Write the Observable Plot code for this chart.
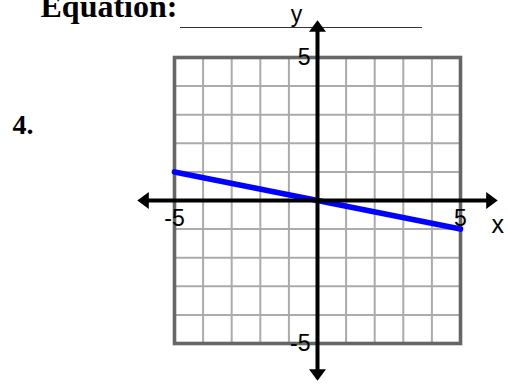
<!DOCTYPE html>
<html>
<head>
<meta charset="utf-8">
<script src="https://cdn.jsdelivr.net/npm/d3@7"></script>
<script src="https://cdn.jsdelivr.net/npm/@observablehq/plot@0.6"></script>
<style>
  html, body { margin: 0; padding: 0; background: white; }
  #wrap { position: relative; width: 508px; height: 385px; overflow: hidden; }
  #underline { position: absolute; left: 180px; top: 27px; width: 242px; height: 0; border-top: 1.6px solid #333; }
  #chart { position: absolute; left: 0; top: 0; }
</style>
</head>
<body>
<div id="wrap">
  <div id="underline"></div>
  <div id="chart"></div>
</div>
<script>
// ---- data ----
const gridLines = [-5, -4, -3, -2, -1, 0, 1, 2, 3, 4, 5];
const xTickLabels = [-5, 5];
const yTickLabels = [-5, 5];
const lineX = [-5, 5];
const lineY = [1, -1];
const axisTip = 6.3;      // where the arrowheads point
const axisEnd = 6.0;      // where the axis shafts end (under arrowheads)
const titleText = ["Equation:"];
const problemText = ["4."];

const lineData = lineX.map((x, i) => ({x, y: lineY[i]}));

// custom arrowhead symbols (tip at the data point)
function arrowSymbol(dir) {
  const L = 11.5, W = 8.5;
  return {
    draw(ctx) {
      const pts = {
        up:    [[0, 0], [-W, L], [W, L]],
        down:  [[0, 0], [-W, -L], [W, -L]],
        right: [[0, 0], [-L, -W], [-L, W]],
        left:  [[0, 0], [L, -W], [L, W]]
      }[dir];
      ctx.moveTo(pts[0][0], pts[0][1]);
      ctx.lineTo(pts[1][0], pts[1][1]);
      ctx.lineTo(pts[2][0], pts[2][1]);
      ctx.closePath();
    }
  };
}

const sans = "'Liberation Sans', Arial, sans-serif";
const serif = "'Liberation Serif', 'Times New Roman', serif";

const chart = Plot.plot({
  width: 508,
  height: 385,
  marginLeft: 174,
  marginRight: 48,
  marginTop: 57,
  marginBottom: 42,
  style: {background: "transparent", overflow: "visible"},
  x: {domain: [-5, 5], axis: null},
  y: {domain: [-5, 5], axis: null},
  marks: [
    // grid
    Plot.ruleX(gridLines, {x: d => d, stroke: "#ababab", strokeWidth: 2}),
    Plot.ruleY(gridLines, {y: d => d, stroke: "#ababab", strokeWidth: 2}),
    Plot.frame({stroke: "#666", strokeWidth: 3.6}),
    // the graphed line
    Plot.line(lineData, {x: "x", y: "y", stroke: "#0000ff", strokeWidth: 5.6, strokeLinecap: "round"}),
    // axes
    Plot.ruleY([0], {x1: -axisEnd, x2: axisEnd, stroke: "black", strokeWidth: 4}),
    Plot.ruleX([0], {y1: -axisEnd, y2: axisEnd, stroke: "black", strokeWidth: 4}),
    Plot.dot([axisTip], {x: d => d, y: 0, symbol: arrowSymbol("right"), fill: "black", stroke: null}),
    Plot.dot([-axisTip], {x: d => d, y: 0, symbol: arrowSymbol("left"), fill: "black", stroke: null}),
    Plot.dot([axisTip], {x: 0, y: d => d, symbol: arrowSymbol("up"), fill: "black", stroke: null}),
    Plot.dot([-axisTip], {x: 0, y: d => d, symbol: arrowSymbol("down"), fill: "black", stroke: null}),
    // tick labels
    Plot.text(xTickLabels, {x: d => d, y: 0, text: d => String(d), dy: 25, lineAnchor: "bottom", textAnchor: "middle",
      fontSize: 23, fontFamily: sans, fill: "black"}),
    Plot.text(yTickLabels, {x: 0, y: d => d, text: d => String(d), dx: -7, dy: 7.5, lineAnchor: "bottom", textAnchor: "end",
      fontSize: 23, fontFamily: sans, fill: "black"}),
    // axis names
    Plot.text(["x"], {x: axisTip, y: 0, text: d => d, dy: 32, lineAnchor: "bottom", textAnchor: "middle",
      fontSize: 25, fontFamily: sans, fill: "black"}),
    Plot.text(["y"], {x: 0, y: axisTip, text: d => d, dx: -21, dy: 1.5, lineAnchor: "bottom", textAnchor: "middle",
      fontSize: 23, fontFamily: sans, fill: "black"}),
    // worksheet text
    Plot.text(titleText, {frameAnchor: "top-left", text: d => d, dx: -134, dy: -41, lineAnchor: "bottom", textAnchor: "start",
      fontSize: 32, fontWeight: "bold", fontFamily: serif, fill: "black"}),
    Plot.text(problemText, {frameAnchor: "top-left", text: d => d, dx: -162, dy: 76, lineAnchor: "bottom", textAnchor: "start",
      fontSize: 28, fontWeight: "bold", fontFamily: serif, fill: "black"})
  ]
});
document.getElementById("chart").appendChild(chart);
</script>
</body>
</html>
